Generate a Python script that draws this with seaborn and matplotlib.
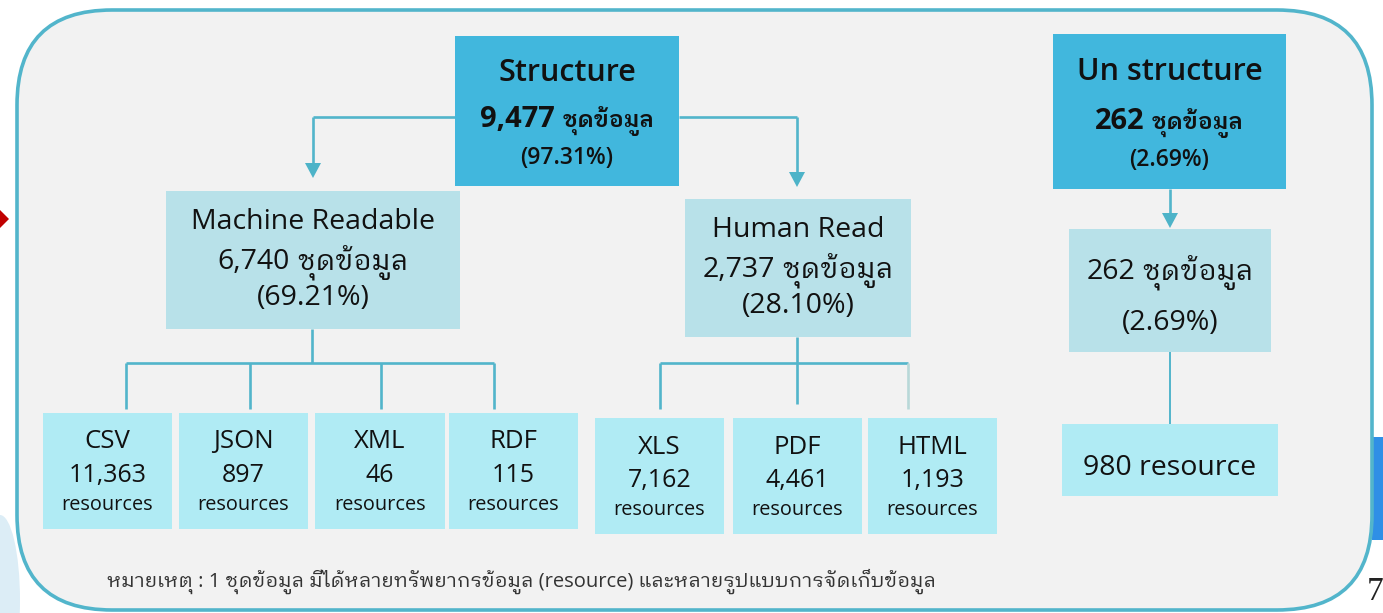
import matplotlib
matplotlib.use("Agg")
import matplotlib.pyplot as plt
import matplotlib.patches as mpatches
import seaborn as sns

# ---------------- data ----------------
unit_th = "ชุดข้อมูล"
top_names = ["Structure", "Un structure"]
top_counts = [9477, 262]
top_shares = [97.31, 2.69]
mid_names = ["Machine Readable", "Human Read"]
mid_counts = [6740, 2737]
mid_shares = [69.21, 28.10]
unstruct_count = 262
unstruct_share = 2.69
mr_formats = ["CSV", "JSON", "XML", "RDF"]
mr_resources = [11363, 897, 46, 115]
hr_formats = ["XLS", "PDF", "HTML"]
hr_resources = [7162, 4461, 1193]
unstruct_resources = 980
res_word = "resources"
note = "หมายเหตุ : 1 ชุดข้อมูล มีได้หลายทรัพยากรข้อมูล (resource) และหลายรูปแบบการจัดเก็บข้อมูล"

# ---------------- style ----------------
sns.set_theme(style="white")
FONT = ['Open Sans', 'IBM Plex Sans Thai Looped', 'IBM Plex Sans Thai',
        'Noto Sans Thai Looped', 'DejaVu Sans']
plt.rcParams['font.family'] = FONT

DARK = "#41b7dd"
MID = "#b8e1e9"
LEAF = "#b0ebf4"
LINE = "#52b5cb"
PANEL = "#f2f2f2"
TXT = "#111111"

W, H = 1383, 613
fig = plt.figure(figsize=(W / 100, H / 100), dpi=100)
fig.patch.set_facecolor("white")
ax = fig.add_axes([0, 0, 1, 1])
ax.set_xlim(0, W)
ax.set_ylim(H, 0)
ax.axis("off")
renderer = fig.canvas.get_renderer()

# decorations outside the panel
ax.add_patch(mpatches.Ellipse((0, 600), 40, 170, color="#dcedf6", lw=0, zorder=0))
ax.add_patch(mpatches.Rectangle((1372, 437), 11, 103, color="#2f8fe6", lw=0, zorder=0))
ax.add_patch(mpatches.Polygon([(-9, 219), (0, 210), (9, 219), (0, 228)],
                              closed=True, color="#c00000", lw=0, zorder=0))
ax.text(1367, 600, "7", fontsize=24, family=['Liberation Serif', 'DejaVu Serif'],
        color="#222222", ha="left", va="baseline")

# outer rounded panel
ax.add_patch(mpatches.FancyBboxPatch((17, 10), 1355, 600,
                                     boxstyle="round,pad=0,rounding_size=95",
                                     fc=PANEL, ec=LINE, lw=2.6, zorder=1))


def box(b, color):
    x0, y0, x1, y1 = b
    ax.add_patch(mpatches.Rectangle((x0, y0), x1 - x0, y1 - y0, fc=color, ec="none", zorder=3))


def line(cx, baseline, parts, gap=0.26):
    """parts: list of (text, fontsize, weight); drawn side by side, centred on cx."""
    objs, widths = [], []
    for t, s, w in parts:
        o = ax.text(0, baseline, t, fontsize=s, fontweight=w, color=TXT,
                    ha="left", va="baseline", zorder=5)
        widths.append(o.get_window_extent(renderer).width)
        objs.append(o)
    gaps = [gap * parts[i][1] * 100 / 72 for i in range(len(parts) - 1)]
    total = sum(widths) + sum(gaps)
    x = cx - total / 2
    for i, o in enumerate(objs):
        o.set_x(x)
        x += widths[i] + (gaps[i] if i < len(gaps) else 0)


def vline(x, y0, y1, color=LINE, lw=1.9):
    ax.plot([x, x], [y0, y1], color=color, lw=lw, solid_capstyle="butt", zorder=2)


def hline(y, x0, x1, color=LINE, lw=1.9):
    ax.plot([x0, x1], [y, y], color=color, lw=lw, solid_capstyle="butt", zorder=2)


def arrow(x, y0, tip):
    vline(x, y0, tip - 12)
    ax.add_patch(mpatches.Polygon([(x - 8, tip - 15), (x + 8, tip - 15), (x, tip)],
                                  closed=True, fc="#4db3c8", ec="none", zorder=2))


# ---------------- layout ----------------
box_top = [(455, 36, 679, 186), (1053, 34, 1286, 189)]
top_base = [(81, 127, 164), (80, 129, 166)]
box_mid = [(166, 191, 460, 329), (685, 199, 911, 337)]
mid_base = [(229, 269, 305), (237, 277, 313)]
box_un_mid = (1069, 229, 1271, 352)
box_un_leaf = (1062, 424, 1278, 496)
mr_x = [(43, 172), (179, 308), (315, 445), (449, 578)]
mr_y = (413, 529)
mr_base = (448, 482, 510)
hr_x = [(595, 724), (733, 862), (868, 997)]
hr_y = (418, 534)
hr_base = (454, 487, 515)

# connectors
hline(117, 313, 455)
arrow(313, 117, 178)
hline(117, 679, 797)
arrow(797, 117, 187)
arrow(1170, 189, 228)
vline(1170, 352, 424, lw=1.4)
vline(312, 329, 363)
hline(363, 126, 494)
for x in [126, 250, 381, 494]:
    vline(x, 363, 409)
vline(797, 337, 404)
hline(363, 660, 908)
vline(660, 363, 409)
vline(908, 363, 409, color="#b8d8d8")

# top boxes
for i in range(2):
    b = box_top[i]
    box(b, DARK)
    cx = (b[0] + b[2]) / 2
    yb = top_base[i]
    line(cx, yb[0], [(top_names[i], 22, 600)])
    line(cx, yb[1], [(f"{top_counts[i]:,}", 21, 700), (unit_th, 16.5, 600)])
    line(cx, yb[2], [(f"({top_shares[i]:.2f}%)", 16.5, 600)])

# middle boxes
for i in range(2):
    b = box_mid[i]
    box(b, MID)
    cx = (b[0] + b[2]) / 2
    yb = mid_base[i]
    line(cx, yb[0], [(mid_names[i], 20.5, 500)])
    line(cx, yb[1], [(f"{mid_counts[i]:,}", 20.5, 500), (unit_th, 20.5, 400)])
    line(cx, yb[2], [(f"({mid_shares[i]:.2f}%)", 20.5, 500)])

# unstructured branch
box(box_un_mid, MID)
cx = (box_un_mid[0] + box_un_mid[2]) / 2
line(cx, 279, [(f"{unstruct_count:,}", 20.5, 500), (unit_th, 20.5, 400)])
line(cx, 330, [(f"({unstruct_share:.2f}%)", 20.5, 500)])
box(box_un_leaf, LEAF)
line((box_un_leaf[0] + box_un_leaf[2]) / 2, 475,
     [(f"{unstruct_resources:,} resource", 20.5, 500)])

# leaf boxes
for xs, ys, base, names, vals in [(mr_x, mr_y, mr_base, mr_formats, mr_resources),
                                  (hr_x, hr_y, hr_base, hr_formats, hr_resources)]:
    for (x0, x1), n, v in zip(xs, names, vals):
        box((x0, ys[0], x1, ys[1]), LEAF)
        cx = (x0 + x1) / 2
        line(cx, base[0], [(n, 18.5, 500)])
        line(cx, base[1], [(f"{v:,}", 18, 500)])
        line(cx, base[2], [(res_word, 14.3, 500)])

# footnote
ax.text(107, 587, note, fontsize=14.5, color="#333333", ha="left", va="baseline", zorder=5)

fig.savefig("out.png", dpi=100, facecolor="white")
